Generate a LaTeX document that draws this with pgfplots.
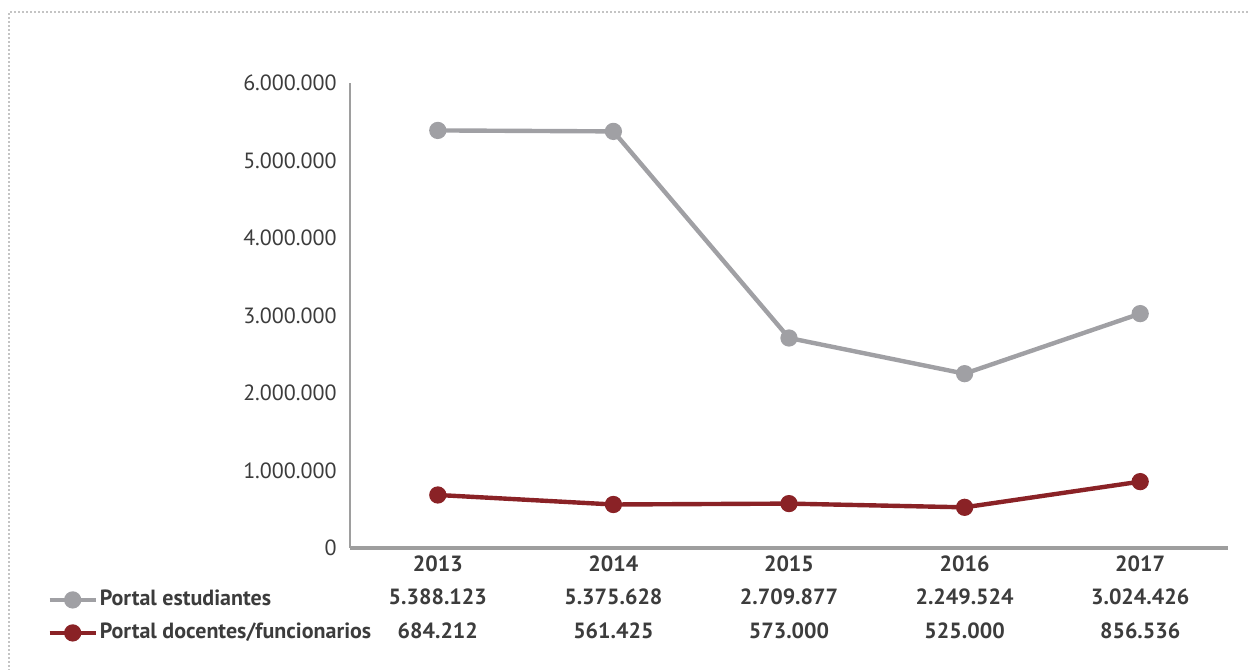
\documentclass[border=0pt]{standalone}
\usepackage{fontspec}
\setmainfont{PT Sans}
\usepackage{pgfplots}
\pgfplotsset{compat=1.18}
\definecolor{gris}{RGB}{160,160,164}
\definecolor{rojo}{RGB}{138,34,38}
\definecolor{texto}{RGB}{60,60,60}
\definecolor{eje}{RGB}{158,158,158}
\definecolor{borde}{RGB}{135,135,135}

\begin{document}
\begin{tikzpicture}[x=1pt,y=1pt]
\useasboundingbox (0,0) rectangle (624.5,-335);
\draw[borde, line width=0.9pt, line cap=round, dash pattern=on 0pt off 2pt] (4.5,-335) -- (4.5,-6) -- (624.5,-6);
\begin{axis}[
  at={(175pt,-274pt)}, anchor=south west,
  scale only axis, width=439pt, height=232.5pt,
  xmin=-0.5, xmax=4.5, ymin=0, ymax=6000000,
  clip=false,
  axis x line*=bottom, axis y line*=left,
  axis line style={-, eje, line width=1.2pt},
  x axis line style={line width=1.7pt},
  major tick length=0pt,
  ytick={0,1000000,2000000,3000000,4000000,5000000,6000000},
  scaled y ticks=false,
  /pgf/number format/assume math mode=true,
  /pgf/number format/fixed,
  /pgf/number format/1000 sep={.},
  yticklabel style={anchor=east, inner sep=0pt, xshift=-6.5pt, text=texto,
    font=\fontsize{11}{13}\selectfont},
  xtick={0,1,2,3,4},
  xticklabels={{2013\\5.388.123\\684.212},{2014\\5.375.628\\561.425},{2015\\2.709.877\\573.000},{2016\\2.249.524\\525.000},{2017\\3.024.426\\856.536}},
  xticklabel style={anchor=north, align=center, inner sep=0pt, yshift=-3.5pt, text=texto,
    font=\bfseries\fontsize{11}{16.75}\selectfont},
  legend style={draw=none, fill=none, inner sep=0pt, at={(-0.345,-0.0882)}, anchor=north west,
    font=\bfseries\fontsize{11}{13}\selectfont, text=texto,
    row sep=6pt, column sep=1pt,
    nodes={inner sep=0pt, text height=8pt, text depth=2.5pt}},
  legend cell align=left,
  legend image code/.code={\draw[#1, mark repeat=2, mark phase=2] plot coordinates {(0pt,0pt) (11.5pt,0pt) (23pt,0pt)};},
]
\addplot[gris, line width=2.2pt, mark=*, mark size=3.2pt, mark options={solid}]
  coordinates {(0,5388123) (1,5375628) (2,2709877) (3,2249524) (4,3024426)};
\addlegendentry{Portal estudiantes}
\addplot[rojo, line width=2.2pt, mark=*, mark size=3.2pt, mark options={solid}]
  coordinates {(0,684212) (1,561425) (2,573000) (3,525000) (4,856536)};
\addlegendentry{Portal docentes/funcionarios}
\end{axis}
\end{tikzpicture}
\end{document}
